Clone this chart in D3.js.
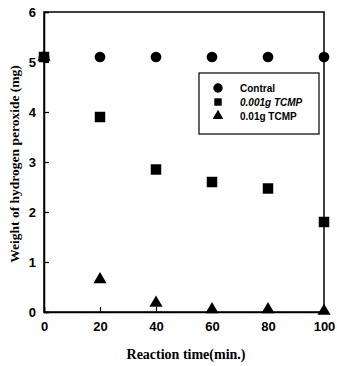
<!DOCTYPE html>
<html><head><meta charset="utf-8">
<script src="https://cdn.jsdelivr.net/npm/d3@7"></script>
<style>body{margin:0;background:#fff}svg{display:block}</style>
</head><body>
<svg id="c" width="337" height="366"></svg>
<script>
const times = [0, 20, 40, 60, 80, 100];
const control = [5.1, 5.1, 5.1, 5.1, 5.1, 5.1];
const tcmp001 = [5.1, 3.9, 2.85, 2.6, 2.47, 1.8];
const tcmp01 = [5.1, 0.65, 0.18, 0.05, 0.05, 0.02];
const xTicks = [0, 20, 40, 60, 80, 100];
const yTicks = [0, 1, 2, 3, 4, 5, 6];
const legendLabels = ["Contral", "0.001g TCMP", "0.01g TCMP"];

const svg = d3.select("#c");
const x = d3.scaleLinear().domain([0, 100]).range([44, 324]);
const y = d3.scaleLinear().domain([0, 6]).range([312, 12]);

svg.append("rect").attr("x", 44).attr("y", 12).attr("width", 280).attr("height", 300)
  .attr("fill", "none").attr("stroke", "#000").attr("stroke-width", 1.5);

const xa = svg.append("g").attr("transform", "translate(0,312)")
  .call(d3.axisBottom(x).tickValues(xTicks).tickSize(-5).tickPadding(10).tickFormat(d3.format("d")));
const ya = svg.append("g").attr("transform", "translate(44,0)")
  .call(d3.axisLeft(y).tickValues(yTicks).tickSize(-5).tickPadding(8).tickFormat(d3.format("d")));
[xa, ya].forEach(a => {
  a.select(".domain").attr("stroke", "#000").attr("stroke-width", 1.5);
  a.selectAll(".tick line").attr("stroke", "#000").attr("stroke-width", 1.2);
  a.selectAll("text").attr("font-family", "Liberation Sans, Arial, sans-serif")
    .attr("font-weight", "bold").attr("font-size", 13).attr("fill", "#000");
});

const sym = {
  circle: d3.symbol().type(d3.symbolCircle).size(90),
  square: d3.symbol().type(d3.symbolSquare).size(110),
  triangle: d3.symbol().type(d3.symbolTriangle).size(75)
};
const series = [
  {vals: control, s: sym.circle},
  {vals: tcmp01, s: sym.triangle},
  {vals: tcmp001, s: sym.square}
];
series.forEach(se => {
  svg.append("g").selectAll("path").data(times.map((t, i) => [t, se.vals[i]])).join("path")
    .attr("d", se.s()).attr("fill", "#000")
    .attr("transform", d => `translate(${x(d[0])},${y(d[1])})`);
});

svg.append("rect").attr("x", 199).attr("y", 73).attr("width", 120).attr("height", 61)
  .attr("fill", "#fff").attr("stroke", "#000").attr("stroke-width", 1.2);
const lsyms = [d3.symbol().type(d3.symbolCircle).size(70), d3.symbol().type(d3.symbolSquare).size(55), d3.symbol().type(d3.symbolTriangle).size(50)];
legendLabels.forEach((lab, i) => {
  const yy = 88 + i * 14;
  svg.append("path").attr("d", lsyms[i]()).attr("fill", "#000").attr("transform", `translate(218,${yy})`);
  svg.append("text").attr("x", 240).attr("y", yy + 4).text(lab)
    .attr("font-family", "Liberation Sans, Arial, sans-serif").attr("font-weight", "bold")
    .attr("font-size", 10).attr("font-style", i === 1 ? "italic" : "normal");
});

svg.append("text").attr("x", 186).attr("y", 359).attr("text-anchor", "middle")
  .attr("font-family", "Liberation Serif, Times New Roman, serif").attr("font-weight", "bold")
  .attr("font-size", 14).text("Reaction time(min.)");
svg.append("text").attr("transform", "translate(19,164) rotate(-90)").attr("text-anchor", "middle")
  .attr("font-family", "Liberation Serif, Times New Roman, serif").attr("font-weight", "bold")
  .attr("font-size", 13.5).text("Weight of hydrogen peroxide (mg)");
</script>
</body></html>
